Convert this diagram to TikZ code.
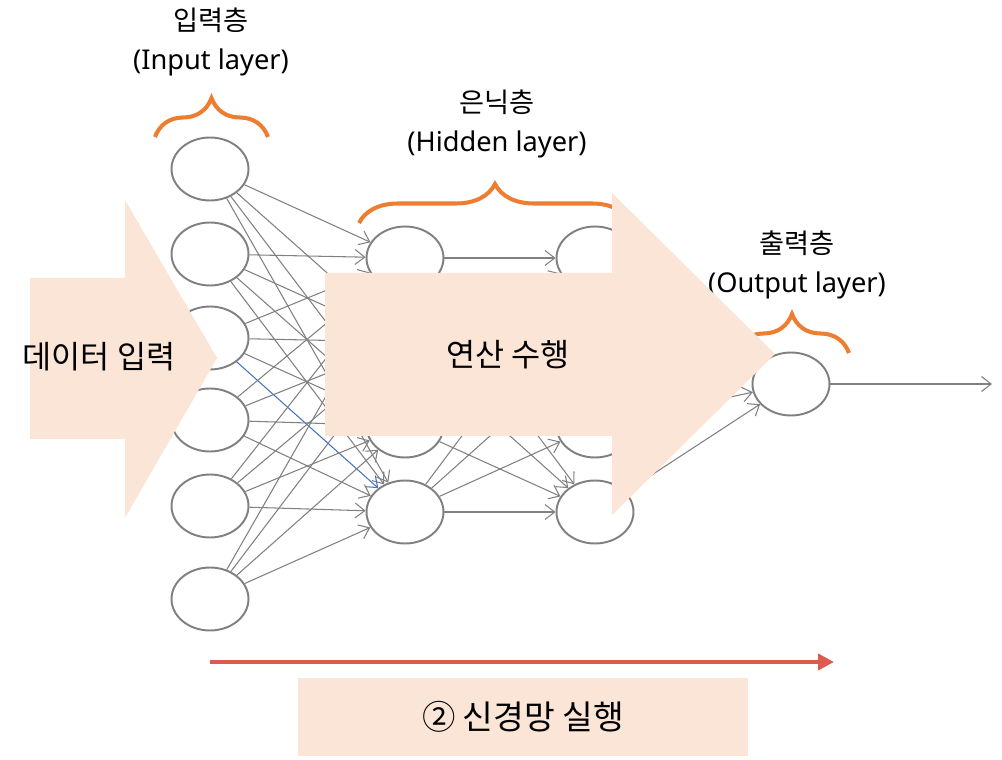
\documentclass[tikz,border=0pt]{standalone}
\usepackage{fontspec}
\setmainfont{Noto Sans}
\newfontfamily\kr{Noto Sans CJK KR}
\usetikzlibrary{shapes.geometric,arrows.meta,decorations.pathreplacing}
\definecolor{peach}{HTML}{FBE5D6}
\definecolor{braceorange}{HTML}{ED7D31}
\definecolor{runred}{HTML}{DC5A4E}
\definecolor{nodegray}{HTML}{808080}
\definecolor{linkblue}{HTML}{4472C4}

\begin{document}
\begin{tikzpicture}[x=0.02cm,y=-0.02cm,
                    neuron/.style={ellipse,draw=nodegray,line width=1.1pt,fill=white,
                                   minimum width=1.54cm,minimum height=1.26cm,inner sep=0pt},
                    link/.style={draw=nodegray,line width=0.6pt,-{Straight Barb[length=5.5pt,width=8.5pt]}},
                    layer brace/.style={draw=braceorange,line width=2.3pt,decorate,
                                        decoration={brace,amplitude=0.78cm}},
                    layer label/.style={align=center,font=\fontsize{15.5}{22}\selectfont},
                    big label/.style={font=\kr\fontsize{18}{21}\selectfont}]

  \useasboundingbox (0,0) rectangle (1002,760);

  % input layer
  \node[neuron] (in1) at (210,169) {};
  \node[neuron] (in2) at (210,254) {};
  \node[neuron] (in3) at (210,338) {};
  \node[neuron] (in4) at (210,420) {};
  \node[neuron] (in5) at (210,506) {};
  \node[neuron] (in6) at (210,599) {};

  % hidden layers
  \node[neuron] (hA1) at (405,258) {};
  \node[neuron] (hA2) at (405,342) {};
  \node[neuron] (hA3) at (405,426) {};
  \node[neuron] (hA4) at (405,512) {};
  \node[neuron] (hB1) at (595,258) {};
  \node[neuron] (hB2) at (595,342) {};
  \node[neuron] (hB3) at (595,426) {};
  \node[neuron] (hB4) at (595,512) {};

  % output layer
  \node[neuron] (out) at (791,384) {};
  \coordinate (outEnd) at (992,384);

  \path[link]
    (in1) edge (hA1) edge (hA2) edge (hA3) edge (hA4)
    (in2) edge (hA1) edge (hA2) edge (hA3) edge (hA4)
    (in3) edge (hA1) edge (hA2) edge (hA3) edge[draw=linkblue] (hA4)
    (in4) edge (hA1) edge (hA2) edge (hA3) edge (hA4)
    (in5) edge (hA1) edge (hA2) edge (hA3) edge (hA4)
    (in6) edge (hA1) edge (hA2) edge (hA3) edge (hA4)
    (hA1) edge (hB1) edge (hB2) edge (hB3) edge (hB4)
    (hA2) edge (hB1) edge (hB2) edge (hB3) edge (hB4)
    (hA3) edge (hB1) edge (hB2) edge (hB3) edge (hB4)
    (hA4) edge (hB1) edge (hB2) edge (hB3) edge (hB4)
    (hB1) edge (out)
    (hB2) edge (out)
    (hB3) edge (out)
    (hB4) edge (out)
    (out) edge (outEnd);

  % braces and layer names
  \draw[layer brace] (155,137) -- (268,137);
  \draw[layer brace] (359,223) -- (631,223);
  \draw[layer brace] (735,353) -- (849,353);
  \node[layer label] (inLabel) at (211,42) {{\kr 입력층}\\(Input layer)};
  \node[layer label] (hidLabel) at (497,124) {{\kr 은닉층}\\(Hidden layer)};
  \node[layer label] (outLabel) at (797,265) {{\kr 출력층}\\(Output layer)};

  % big arrows
  \fill[peach] (30,278) -- (125,278) -- (125,200) -- (217,358) -- (125,518)
               -- (125,439) -- (30,439) -- cycle;
  \fill[peach] (325,273) -- (612,273) -- (612,193) -- (775,354) -- (612,515)
               -- (612,436) -- (325,436) -- cycle;
  \node[big label] (inputText) at (99,357) {데이터 입력};
  \node[big label] (calcText) at (508,355) {연산 수행};

  % run
  \coordinate (runStart) at (210,662);
  \coordinate (runEnd) at (834,662);
  \draw[runred,line width=2.8pt,-{Triangle[length=9pt,width=9pt]}] (runStart) -- (runEnd);
  \node[big label,font=\kr\fontsize{19}{22}\selectfont,fill=peach,minimum width=9cm,
        minimum height=1.56cm] (runBox) at (523,717) {② 신경망 실행};
\end{tikzpicture}
\end{document}
